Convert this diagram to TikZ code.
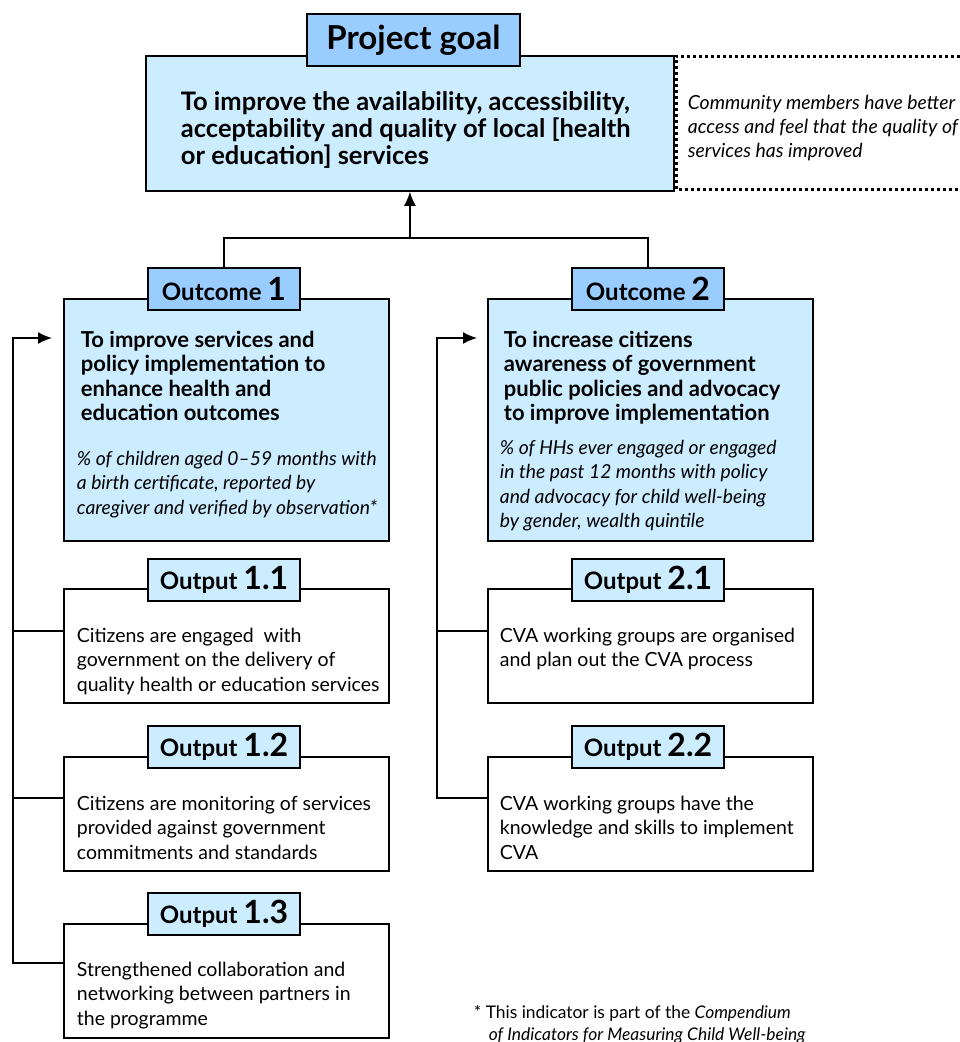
\documentclass[tikz,border=0pt]{standalone}
\usepackage{fontspec}
\setmainfont{Lato}
\usetikzlibrary{arrows.meta}
\definecolor{lblue}{HTML}{CCECFF}
\definecolor{mblue}{HTML}{99CCFF}
\begin{document}
\begin{tikzpicture}[x=1pt,y=-1pt,line width=1.8pt,
  box/.style={draw,anchor=north west,inner sep=0pt},
  bluebox/.style={box,fill=lblue},
  whitebox/.style={box,fill=white},
  tabdark/.style={draw,fill=mblue,inner sep=0pt,minimum width=152pt,minimum height=42pt,font=\bfseries\fontsize{24}{26}\selectfont},
  tablight/.style={tabdark,fill=lblue},
  txt/.style={anchor=north west,inner sep=0pt,align=left},
  titletxt/.style={txt,font=\bfseries\fontsize{22}{24.5}\selectfont},
  indtxt/.style={txt,font=\itshape\fontsize{19.3}{24.5}\selectfont},
  outtxt/.style={txt,font=\fontsize{19.5}{24.5}\selectfont},
  conn/.style={line width=1.6pt},
  arr/.style={conn,-{Latex[length=14pt,width=12pt]}}
]
\useasboundingbox (0,0) rectangle (960,1042);

% dotted box
\draw[line width=3pt,dash pattern=on 3pt off 3pt] (966,56) -- (676,56) -- (676,189) -- (966,189);
\node[txt,font=\itshape\fontsize{19.4}{24}\selectfont] (goalind) at (687,94) {Community members have better\\access and feel that the quality of\\services has improved};

% goal
\node[bluebox,minimum width=528pt,minimum height=135pt] (goal) at (145,55) {};
\node[draw,fill=mblue,inner sep=0pt,minimum width=213pt,minimum height=52pt,font=\bfseries\fontsize{33}{34}\selectfont] (goaltab) at (413.5,40) {Project goal};
\node[txt,font=\bfseries\fontsize{25.5}{27}\selectfont] (goaltxt) at (180,91) {To improve the availability, accessibility,\\acceptability and quality of local [health\\or education] services};

% outcome 1
\node[bluebox,minimum width=325pt,minimum height=242pt] (oc1) at (63,298) {};
\node[tabdark] (oc1tab) at (224,289) {Outcome \fontsize{32}{32}\selectfont 1};
\node[titletxt] (oc1txt) at (80,330) {To improve services and\\policy implementation to\\enhance health and\\education outcomes};
\node[indtxt] (oc1ind) at (76,450) {\% of children aged 0–59 months with\\a birth certificate, reported by\\caregiver and verified by observation*};

% outcome 2
\node[bluebox,minimum width=325pt,minimum height=242pt] (oc2) at (487,298) {};
\node[tabdark] (oc2tab) at (648,289) {Outcome \fontsize{32}{32}\selectfont 2};
\node[titletxt] (oc2txt) at (503,330) {To increase citizens\\awareness of government\\public policies and advocacy\\to improve implementation};
\node[indtxt] (oc2ind) at (499,439) {\% of HHs ever engaged or engaged\\in the past 12 months with policy\\and advocacy for child well-being\\by gender, wealth quintile};

% outputs column 1
\node[whitebox,minimum width=325pt,minimum height=114pt] (op11) at (63,588) {};
\node[tablight] (op11tab) at (224,580) {Output \fontsize{32}{32}\selectfont 1.1};
\node[outtxt] (op11txt) at (76,627) {Citizens are engaged\ \ with\\government on the delivery of\\quality health or education services};

\node[whitebox,minimum width=325pt,minimum height=114pt] (op12) at (63,756) {};
\node[tablight] (op12tab) at (224,747) {Output \fontsize{32}{32}\selectfont 1.2};
\node[outtxt] (op12txt) at (76,795) {Citizens are monitoring of services\\provided against government\\commitments and standards};

\node[whitebox,minimum width=325pt,minimum height=114pt] (op13) at (63,923) {};
\node[tablight] (op13tab) at (224,914) {Output \fontsize{32}{32}\selectfont 1.3};
\node[outtxt] (op13txt) at (76,961) {Strengthened collaboration and\\networking between partners in\\the programme};

% outputs column 2
\node[whitebox,minimum width=325pt,minimum height=114pt] (op21) at (487,588) {};
\node[tablight] (op21tab) at (648,580) {Output \fontsize{32}{32}\selectfont 2.1};
\node[outtxt] (op21txt) at (499,627) {CVA working groups are organised\\and plan out the CVA process};

\node[whitebox,minimum width=325pt,minimum height=114pt] (op22) at (487,756) {};
\node[tablight] (op22tab) at (648,747) {Output \fontsize{32}{32}\selectfont 2.2};
\node[outtxt] (op22txt) at (499,795) {CVA working groups have the\\knowledge and skills to implement\\CVA};

% goal connectors
\coordinate (j) at (goal.south |- 0,238);
\draw[conn] (oc1tab.north) -- (oc1tab.north |- j) -- (oc2tab.north |- j) -- (oc2tab.north);
\draw[arr] (j) -- (goal.south);

% left feedback
\coordinate (L0) at (13,338);
\coordinate (La) at (52,338);
\coordinate (L11) at (13,631);
\coordinate (L12) at (13,798);
\coordinate (L13) at (13,963);
\draw[conn] (op11.west |- L11) -- (L11);
\draw[conn] (op12.west |- L12) -- (L12);
\draw[arr] (op13.west |- L13) -- (L13) -- (L0) -- (La);

% right feedback
\coordinate (R0) at (437,338);
\coordinate (Ra) at (477,338);
\coordinate (R21) at (437,631);
\coordinate (R22) at (437,798);
\draw[conn] (op21.west |- R21) -- (R21);
\draw[arr] (op22.west |- R22) -- (R22) -- (R0) -- (Ra);

% footnote
\node[txt,font=\fontsize{17.4}{22}\selectfont] (fn) at (473,1004) {* This indicator is part of the \textit{Compendium}\\\hspace*{15pt}\textit{of Indicators for Measuring Child Well-being}};
\end{tikzpicture}
\end{document}
